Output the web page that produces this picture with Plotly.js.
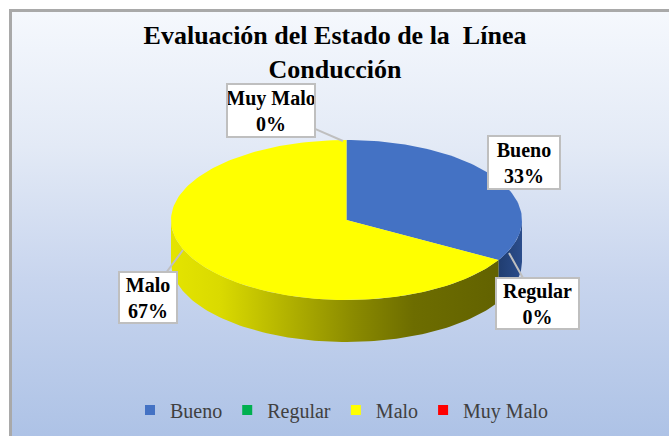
<!DOCTYPE html>
<html>
<head>
<meta charset="utf-8">
<script src="https://cdn.plot.ly/plotly-3.0.1.min.js"></script>
<style>
  html, body { margin:0; padding:0; background:#ffffff; width:669px; height:436px; overflow:hidden; }
  #frame { position:absolute; left:9px; top:9px; width:700px; height:445px;
           border-left:3px solid #a9a9a9; border-top:3px solid #a9a9a9;
           background: linear-gradient(to bottom, #f5f8fd 0%, #e3eaf6 30%, #c8d5ee 60%, #aac0e5 100%); }
  #chart { position:absolute; left:0; top:0; width:669px; height:436px; }
</style>
</head>
<body>
<div id="frame"></div>
<div id="chart"></div>
<script>
// ---- data ----
const categories = ["Bueno", "Regular", "Malo", "Muy Malo"];
const values = [1, 0, 2, 0];
const chartTitle = "Evaluación del Estado de la\u00a0\u00a0Línea<br>Conducción";

// ---- style ----
const topColors = ["#4472c4", "#00b050", "#ffff00", "#ff0000"];
const wallScales = [
  [[0, "#203d70"], [1, "#2b4d8c"]],
  [[0, "#007a38"], [1, "#00a04a"]],
  [[0, "#e4e400"], [0.15, "#dada00"], [0.35, "#b3b300"], [0.56, "#8a8a00"], [0.74, "#6d6d00"], [1, "#626200"]],
  [[0, "#aa0000"], [1, "#dd0000"]]
];
const geo = { cx: 346.5, cy: 220, rx: 175.5, ry: 80, depth: 42 };

function pt(thetaDeg, dy) {
  const t = thetaDeg * Math.PI / 180;
  return [geo.cx + geo.rx * Math.sin(t), geo.cy - geo.ry * Math.cos(t) + (dy || 0)];
}

const total = values.reduce((a, b) => a + b, 0);
const traces = [];
const wallTraces = [];
const topTraces = [];
let acc = 0;
values.forEach((v, i) => {
  const a0 = acc / total * 360;
  const a1 = (acc + v) / total * 360;
  acc += v;
  if (v <= 0) return;
  // top face
  const xs = [geo.cx], ys = [geo.cy];
  const n = Math.max(4, Math.ceil((a1 - a0) / 1.5));
  for (let k = 0; k <= n; k++) {
    const p = pt(a0 + (a1 - a0) * k / n);
    xs.push(p[0]); ys.push(p[1]);
  }
  xs.push(geo.cx); ys.push(geo.cy);
  topTraces.push({
    type: "scatter", mode: "lines", x: xs, y: ys, fill: "toself",
    fillcolor: topColors[i], line: { width: 0, color: topColors[i] },
    hoverinfo: "skip", showlegend: false
  });
  // front wall (visible between 90 and 270 degrees)
  const w0 = Math.max(a0, 90), w1 = Math.min(a1, 270);
  if (w1 > w0) {
    const wx = [], wy = [];
    const m = Math.max(4, Math.ceil((w1 - w0) / 1.5));
    for (let k = 0; k <= m; k++) { const p = pt(w0 + (w1 - w0) * k / m); wx.push(p[0]); wy.push(p[1]); }
    for (let k = m; k >= 0; k--) { const p = pt(w0 + (w1 - w0) * k / m, geo.depth); wx.push(p[0]); wy.push(p[1]); }
    wx.push(wx[0]); wy.push(wy[0]);
    wallTraces.push({
      type: "scatter", mode: "lines", x: wx, y: wy, fill: "toself",
      fillgradient: { type: "horizontal", colorscale: wallScales[i] },
      line: { width: 0, color: "rgba(0,0,0,0)" },
      hoverinfo: "skip", showlegend: false
    });
  }
});
traces.push(...wallTraces, ...topTraces);

// legend entries
categories.forEach((c, i) => {
  traces.push({
    type: "scatter", mode: "markers", x: [null], y: [null], name: c,
    marker: { symbol: "square", size: 10, color: topColors[i] },
    showlegend: true, hoverinfo: "skip"
  });
});

// data labels
const labelFont = { family: "Liberation Serif, Times New Roman, serif", size: 20, color: "#000000", weight: "bold" };
const labelPlacement = [
  { tip: [488, 172], box: [524, 162], w: 70, h: 51 },   // Bueno
  { tip: [509, 253], box: [537, 303], w: 81, h: 49 },   // Regular
  { tip: [183, 250], box: [148, 297], w: 56, h: 49 },   // Malo
  { tip: [343, 141], box: [271, 110], w: 86, h: 51 }    // Muy Malo
];
const annotations = categories.map((c, i) => {
  const pl = labelPlacement[i];
  const pct = Math.round(values[i] / total * 100) + "%";
  return {
    xref: "x", yref: "y", x: pl.tip[0], y: pl.tip[1],
    axref: "pixel", ayref: "pixel",
    ax: pl.box[0] - pl.tip[0], ay: pl.box[1] - pl.tip[1],
    text: c + "<br>" + pct, font: labelFont, align: "center",
    showarrow: true, arrowhead: 0, arrowwidth: 2, arrowcolor: "#bfbfbf",
    bgcolor: "#ffffff", bordercolor: "#bfbfbf", borderwidth: 2, borderpad: 0,
    width: pl.w, height: pl.h, standoff: 0, startstandoff: 0
  };
});

const layout = {
  width: 669, height: 436,
  margin: { l: 0, r: 0, t: 0, b: 0 },
  paper_bgcolor: "rgba(0,0,0,0)", plot_bgcolor: "rgba(0,0,0,0)",
  title: {
    text: chartTitle, x: 335 / 669, xanchor: "center", xref: "paper",
    y: 1 - 44 / 436, yanchor: "top", yref: "container",
    font: { family: "Liberation Serif, Times New Roman, serif", size: 26, color: "#000000", weight: "bold" }
  },
  xaxis: { range: [0, 669], visible: false, fixedrange: true },
  yaxis: { range: [436, 0], visible: false, fixedrange: true },
  showlegend: true,
  legend: {
    orientation: "h", x: 342 / 669, xanchor: "center", y: 1 - 410 / 436, yanchor: "middle",
    font: { family: "Liberation Serif, Times New Roman, serif", size: 20, color: "#404040" },
    bgcolor: "rgba(0,0,0,0)", itemwidth: 30, tracegroupgap: 0
  },
  annotations: annotations
};

Plotly.newPlot("chart", traces, layout, { displayModeBar: false, staticPlot: true });
</script>
</body>
</html>
